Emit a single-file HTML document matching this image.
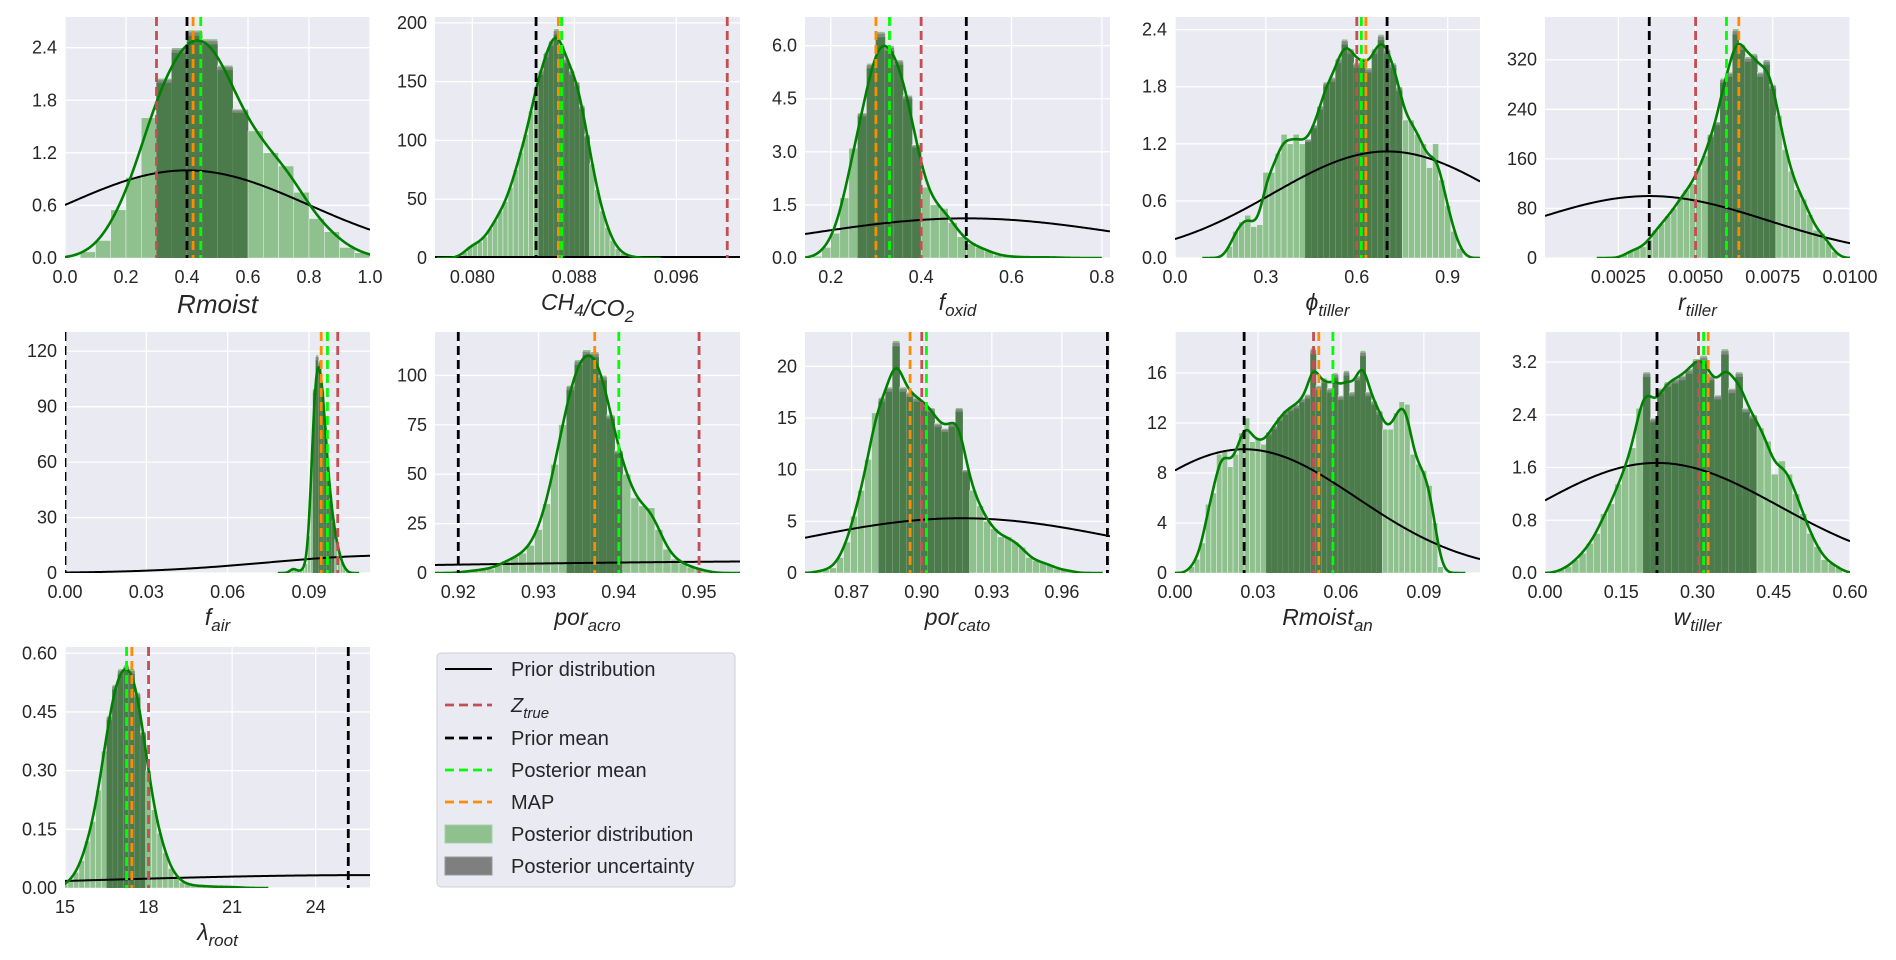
<!DOCTYPE html>
<html><head><meta charset="utf-8"><title>Posterior distributions</title>
<style>
html,body{margin:0;padding:0;background:#fff;}
svg{display:block;font-family:"Liberation Sans","DejaVu Sans",sans-serif;}
</style></head>
<body>
<svg id="chart" width="1896" height="960" viewBox="0 0 1896 960" xmlns="http://www.w3.org/2000/svg"></svg>
<script>
// ---------- data ----------
const rmoistHeights = [0.07,0.2,0.55,0.92,1.6,2.05,2.4,2.6,2.5,2.2,1.7,1.45,1.2,1.05,0.75,0.45,0.3,0.12,0.06];
const rmoistLines = [0.3,0.4,0.445,0.42];
const ch4Heights = [2,5,10,12,14,18,25,32,40,48,60,75,90,105,125,145,160,175,185,195,182,170,160,150,130,105,80,58,40,26,15,8,4,2,1,0.5];
const ch4Lines = [0.1000,0.0850,0.0870,0.08675];
const foxidHeights = [0.05,0.3,0.7,1.7,3.1,4.1,5.5,6.4,6.0,5.6,4.6,3.2,2.0,1.5,1.4,1.0,0.6,0.4,0.3,0.2,0.08,0.05,0.03,0.02,0.02,0.02,0.02,0.01];
const foxidLines = [0.4,0.5,0.33,0.3];
const phiHeights = [0.12,0.28,0.38,0.45,0.33,0.35,0.9,0.9,1.1,1.3,1.2,1.3,1.2,1.25,1.4,1.6,1.85,1.9,2.1,2.3,2.2,2.05,2.1,2.0,2.2,2.35,2.2,2.05,1.8,1.45,1.45,1.3,1.2,0.95,1.2,0.82,0.55,0.28,0.1];
const phiLines = [0.6,0.7,0.615,0.63];
const rtillerHeights = [5,12,15,18,30,45,55,68,80,95,110,120,145,165,200,220,290,300,370,345,325,330,300,320,280,230,175,140,110,95,70,45,40,25,10];
const rtillerLines = [0.005,0.0035,0.006,0.0064];
const fairHeights = [1,3,2,1,1,2,5,20,60,100,118,115,100,80,55,40,28,18,12,6,3,1];
const fairLines = [0.1006,0.0,0.0968,0.0945];
const acroHeights = [1,1,2,2,4,6,8,10,14,22,35,55,75,95,108,113,112,100,80,62,50,38,34,33,22,12,7,5,3,2,1];
const acroLines = [0.95,0.92,0.94,0.937];
const catoHeights = [0.2,0.3,0.5,1.5,3,5.5,8,11,15.5,17,18,22.5,18,17.5,17,16.5,16,14.5,14,14.5,16,10,8,6.5,5,4.3,3.5,3.5,3,2.5,1.5,1.2,1,0.8,0.4,0.3,0.2];
const catoLines = [0.9,0.9795,0.902,0.895];
const rmanHeights = [0.5,1.1,2.4,5.5,6.4,9.5,9.7,8.5,9.5,11.2,12.4,10.5,10.8,10.3,11.3,11.8,12.5,13.0,13.3,13.5,14.0,14.3,18.0,15.0,15.6,14.8,16.0,14.2,16.2,14.5,15.8,17.8,14.5,13.8,13.0,11.5,11.5,12.8,13.7,13.5,9.5,8.7,8.2,7.0,4.0,0.5];
const rmanLines = [0.0501,0.025,0.0571,0.052];
const wtillerHeights = [0.05,0.1,0.2,0.3,0.45,0.6,0.9,1.05,1.35,1.6,1.9,2.5,3.05,2.35,2.8,2.9,2.95,3.0,3.1,3.25,3.3,3.0,2.7,3.4,2.8,3.05,2.5,2.4,2.2,2.0,1.5,1.7,1.5,1.2,0.9,0.6,0.4,0.2,0.15,0.08];
const wtillerLines = [0.302,0.2203,0.312,0.321];
const lambdaHeights = [0.01,0.02,0.04,0.07,0.12,0.17,0.25,0.35,0.44,0.52,0.56,0.57,0.56,0.5,0.4,0.3,0.2,0.14,0.09,0.05,0.03,0.015,0.01,0.007,0.005,0.005,0.004,0.003,0.003,0.003,0.002,0.002,0.001];
const lambdaLines = [18.0,25.17,17.21,17.4];
// tick labels
const rmoistXT=["0.0","0.2","0.4","0.6","0.8","1.0"], rmoistYT=["0.0","0.6","1.2","1.8","2.4"];
const ch4XT=["0.080","0.088","0.096"], ch4YT=["0","50","100","150","200"];
const foxidXT=["0.2","0.4","0.6","0.8"], foxidYT=["0.0","1.5","3.0","4.5","6.0"];
const phiXT=["0.0","0.3","0.6","0.9"], phiYT=["0.0","0.6","1.2","1.8","2.4"];
const rtillerXT=["0.0025","0.0050","0.0075","0.0100"], rtillerYT=["0","80","160","240","320"];
const fairXT=["0.00","0.03","0.06","0.09"], fairYT=["0","30","60","90","120"];
const acroXT=["0.92","0.93","0.94","0.95"], acroYT=["0","25","50","75","100"];
const catoXT=["0.87","0.90","0.93","0.96"], catoYT=["0","5","10","15","20"];
const rmanXT=["0.00","0.03","0.06","0.09"], rmanYT=["0","4","8","12","16"];
const wtillerXT=["0.00","0.15","0.30","0.45","0.60"], wtillerYT=["0.0","0.8","1.6","2.4","3.2"];
const lambdaXT=["15","18","21","24"], lambdaYT=["0.00","0.15","0.30","0.45","0.60"];
// prior [mean, sd, peak]
const rmoistPrior=[0.4,0.399,1.0], ch4Prior=[0.085,0.5,0.8], foxidPrior=[0.5,0.356,1.12], phiPrior=[0.7,0.377,1.12], rtillerPrior=[0.0035,0.00384,100];
const fairPrior=[0.12,0.045,9.45], acroPrior=[0.97,0.06,6.0], catoPrior=[0.917,0.0713,5.3], rmanPrior=[0.025,0.0408,9.9], wtillerPrior=[0.22,0.241,1.67], lambdaPrior=[26,10,0.033];

const panels = [
 {name:"rmoist",col:0,row:0,xr:[0,1],ymax:2.75,start:0.05,bw:0.05,h:rmoistHeights,dark:[0.29,0.6],lines:rmoistLines,xt:rmoistXT,yt:rmoistYT,prior:rmoistPrior,label:[["Rmoist",""]],lsize:26},
 {name:"ch4-co2",col:1,row:0,xr:[0.07707,0.1010],ymax:205,start:0.0788,bw:0.0004,h:ch4Heights,dark:[0.0850,0.0892],lines:ch4Lines,xt:ch4XT,yt:ch4YT,prior:ch4Prior,label:[["CH","4"],["/CO","2"]],lsize:23},
 {name:"f-oxid",col:2,row:0,xr:[0.143,0.818],ymax:6.81,start:0.16,bw:0.02,h:foxidHeights,dark:[0.255,0.405],lines:foxidLines,xt:foxidXT,yt:foxidYT,prior:foxidPrior,label:[["f","oxid"]],lsize:23},
 {name:"phi-tiller",col:3,row:0,xr:[0,1.0066],ymax:2.533,start:0.17,bw:0.02,h:phiHeights,dark:[0.43,0.75],lines:phiLines,xt:phiXT,yt:phiYT,prior:phiPrior,label:[["ϕ","tiller"]],lsize:23},
 {name:"r-tiller",col:4,row:0,xr:[0.000124,0.01],ymax:389,start:0.0026,bw:0.0002,h:rtillerHeights,dark:[0.0055,0.0076],lines:rtillerLines,xt:rtillerXT,yt:rtillerYT,prior:rtillerPrior,label:[["r","tiller"]],lsize:23},
 {name:"f-air",col:0,row:1,xr:[0,0.1125],ymax:130.4,start:0.0825,bw:0.001,h:fairHeights,dark:[0.092,0.099],lines:fairLines,xt:fairXT,yt:fairYT,prior:fairPrior,label:[["f","air"]],lsize:23},
 {name:"por-acro",col:1,row:1,xr:[0.9171,0.9551],ymax:122,start:0.9205,bw:0.001,h:acroHeights,dark:[0.9335,0.9405],lines:acroLines,xt:acroXT,yt:acroYT,prior:acroPrior,label:[["por","acro"]],lsize:23},
 {name:"por-cato",col:2,row:1,xr:[0.85,0.9806],ymax:23.33,start:0.8545,bw:0.003,h:catoHeights,dark:[0.8805,0.9215],lines:catoLines,xt:catoXT,yt:catoYT,prior:catoPrior,label:[["por","cato"]],lsize:23},
 {name:"rmoist-an",col:3,row:1,xr:[0,0.1103],ymax:19.28,start:0.005,bw:0.002,h:rmanHeights,dark:[0.033,0.076],lines:rmanLines,xt:rmanXT,yt:rmanYT,prior:rmanPrior,label:[["Rmoist","an"]],lsize:23},
 {name:"w-tiller",col:4,row:1,xr:[0,0.6],ymax:3.656,start:0.025,bw:0.014,h:wtillerHeights,dark:[0.196,0.424],lines:wtillerLines,xt:wtillerXT,yt:wtillerYT,prior:wtillerPrior,label:[["w","tiller"]],lsize:23},
 {name:"lambda-root",col:0,row:2,xr:[15,25.95],ymax:0.616,start:14.9,bw:0.2,h:lambdaHeights,dark:[16.5,17.9],lines:lambdaLines,xt:lambdaXT,yt:lambdaYT,prior:lambdaPrior,label:[["λ","root"]],lsize:23}
];
const lineColors=["#c44e52","#000000","#00ff00","#ff8c00"];
const lineNames=["z-true-line","prior-mean-line","posterior-mean-line","map-line"];
// ---------- drawing ----------
const NS="http://www.w3.org/2000/svg";
const svg=document.getElementById("chart");
const colX=[65,435,805,1175,1545], rowY=[17,332,647], W=305, H=241;
function mk(tag,attrs,parent){const e=document.createElementNS(NS,tag);for(const k in attrs)e.setAttribute(k,attrs[k]);(parent||svg).appendChild(e);return e;}
const defs=mk("defs",{});
panels.forEach((p,pi)=>{
  const x0=colX[p.col], y0=rowY[p.row];
  const sx=v=>x0+(v-p.xr[0])/(p.xr[1]-p.xr[0])*W;
  const sy=v=>y0+H-v/p.ymax*H;
  const g=mk("g",{});
  
  
  const cp=mk("clipPath",{id:"cp"+pi},defs); mk("rect",{x:x0,y:y0,width:W,height:H},cp);
  const bg=mk("rect",{x:x0,y:y0,width:W,height:H,fill:"#eaeaf2"},g);
  
  
  p.xt.forEach(t=>{const v=parseFloat(t),X=sx(v);
    mk("line",{x1:X,x2:X,y1:y0,y2:y0+H,stroke:"#fff","stroke-width":1.3},g);
    const tx=mk("text",{x:X,y:y0+H+25,"text-anchor":"middle","font-size":18,fill:"#262626"},g);tx.textContent=t;
    
    });
  p.yt.forEach(t=>{const v=parseFloat(t),Y=sy(v);
    mk("line",{x1:x0,x2:x0+W,y1:Y,y2:Y,stroke:"#fff","stroke-width":1.3},g);
    const ty=mk("text",{x:x0-8,y:Y+6,"text-anchor":"end","font-size":18,fill:"#262626"},g);ty.textContent=t;
    
    });
  const c=mk("g",{"clip-path":"url(#cp"+pi+")"},g);
  p.h.forEach((v,i)=>{const l=p.start+i*p.bw, r=l+p.bw, X1=sx(l), X2=sx(r);
    const b=mk("rect",{x:X1,y:sy(v),width:Math.max(0.5,X2-X1),height:sy(0)-sy(v),fill:"#8ec18e",stroke:"#eef5ee","stroke-width":0.5},c);
    
    
    const m=(l+r)/2;
    if(m>=p.dark[0]&&m<=p.dark[1]){
      const gb=mk("rect",{x:X1,y:sy(v*0.99),width:Math.max(0.5,X2-X1),height:sy(0)-sy(v*0.99),fill:"#858585",stroke:"#9a9a9a","stroke-width":0.4},c);
      
      
      mk("rect",{x:X1,y:sy(v*0.975),width:Math.max(0.5,X2-X1),height:sy(0)-sy(v*0.975),fill:"#4b7b4b",stroke:"#5f8a5f","stroke-width":0.4},c);
    }});
  let d="";for(let k=0;k<=200;k++){const v=p.xr[0]+(p.xr[1]-p.xr[0])*k/200;const y=p.prior[2]*Math.exp(-Math.pow(v-p.prior[0],2)/(2*p.prior[1]*p.prior[1]));d+=(k?"L":"M")+sx(v).toFixed(2)+","+sy(y).toFixed(2);}
  const pr=mk("path",{d:d,fill:"none",stroke:"#000","stroke-width":2},c);
  
  
  const s=p.bw*0.95; const lo=p.start-4*p.bw, hi=p.start+(p.h.length+4)*p.bw;
  d="";for(let k=0;k<=300;k++){const v=lo+(hi-lo)*k/300;let y=0;p.h.forEach((hv,i)=>{const cc=p.start+(i+0.5)*p.bw;y+=hv*Math.exp(-Math.pow(v-cc,2)/(2*s*s));});y*=p.bw/(s*Math.sqrt(2*Math.PI));d+=(k?"L":"M")+sx(v).toFixed(2)+","+sy(y).toFixed(2);}
  const kd=mk("path",{d:d,fill:"none",stroke:"#008000","stroke-width":2.6},c);
  
  
  p.lines.forEach((v,i)=>{const X=sx(v);const ln=mk("line",{x1:X,x2:X,y1:y0,y2:y0+H,stroke:lineColors[i],"stroke-width":2.8,"stroke-dasharray":"9,5"},c);
    
    });
  const lt=mk("text",{x:x0+W/2,y:y0+H+(p.lsize>24?55:52),"text-anchor":"middle","font-size":p.lsize,"font-style":"italic",fill:"#262626"},g);
  
  
  p.label.forEach(part=>{const a=mk("tspan",{},lt);a.textContent=part[0];
    if(part[1]){const b=mk("tspan",{"font-size":Math.round(p.lsize*0.72),dy:6},lt);b.textContent=part[1];mk("tspan",{dy:-6},lt).textContent="";}});
});
const lg=mk("g",{});


mk("rect",{x:437,y:653,width:298,height:234,rx:4,fill:"#eaeaf2",stroke:"#cfcfd6","stroke-width":1},lg);
const legLabels=["Prior distribution","Z","Prior mean","Posterior mean","MAP","Posterior distribution","Posterior uncertainty"];
const legY=[669,705,738,770,802,834,866];
legLabels.forEach((t,i)=>{const y=legY[i];
  const e=mk("g",{},lg);
  
  
  if(i===0) mk("line",{x1:445,x2:492,y1:y,y2:y,stroke:"#000","stroke-width":2},e);
  else if(i<5) mk("line",{x1:445,x2:492,y1:y,y2:y,stroke:["","#c44e52","#000","#00ff00","#ff8c00"][i],"stroke-width":2.8,"stroke-dasharray":"9,5"},e);
  else mk("rect",{x:445,y:y-9,width:47,height:18,fill:i===5?"#8ec18e":"#7f7f7f",stroke:i===5?"#a8d0a8":"#999"},e);
  const tx=mk("text",{x:511,y:y+7,"font-size":20,fill:"#262626"},e);
  if(i===1){tx.setAttribute("font-style","italic");tx.textContent="Z";const s=mk("tspan",{"font-size":15,dy:6},tx);s.textContent="true";}
  else tx.textContent=t;
});
</script>
</body></html>
